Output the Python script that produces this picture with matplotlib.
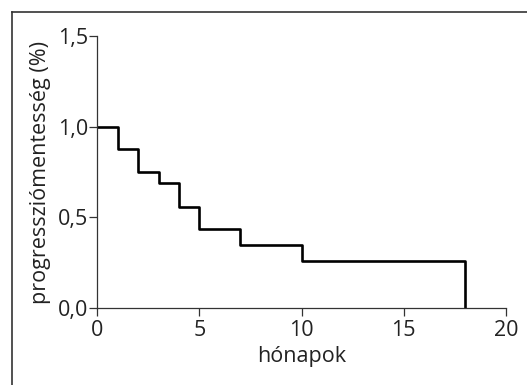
import matplotlib.pyplot as plt
from matplotlib.lines import Line2D

plt.rcParams['font.family'] = ['Open Sans', 'DejaVu Sans']

# step data
months = [0, 1, 2, 3, 4, 5, 7, 10, 18]
survival = [1.0, 0.875, 0.75, 0.69, 0.56, 0.4375, 0.35, 0.26, 0.0]
xticks = [0, 5, 10, 15, 20]
yticks = [0.0, 0.5, 1.0, 1.5]
ylabels = ['0,0', '0,5', '1,0', '1,5']

fig = plt.figure(figsize=(5.27, 3.85), dpi=100)
ax = fig.add_axes([0.1846, 0.1992, 0.960 - 0.1846, 0.9068 - 0.1992])

ax.step(months, survival, where='post', color='black', lw=1.9)

ax.set_xlim(0, 20)
ax.set_ylim(0, 1.5)
ax.set_xticks(xticks)
ax.set_xticklabels([str(t) for t in xticks])
ax.set_yticks(yticks)
ax.set_yticklabels(ylabels)

for s in ['top', 'right']:
    ax.spines[s].set_visible(False)
for s in ['left', 'bottom']:
    ax.spines[s].set_color('#333333')
    ax.spines[s].set_linewidth(0.9)
ax.tick_params(direction='out', length=5.8, width=0.9, color='#333333',
               labelsize=15.5, labelcolor='#222222')
ax.tick_params(axis='x', pad=2.5)
ax.tick_params(axis='y', pad=1.0)

ax.set_xlabel('hónapok', fontsize=15.5, color='#222222', labelpad=4)
ax.set_ylabel('progressziómentesség (%)', fontsize=15.5, color='#222222', labelpad=5)

# frame around the figure (cut off at right and bottom)
x0 = 11.5 / 527
y0 = 1 - 11.5 / 385
fig.add_artist(Line2D([x0, x0], [0, y0], color='#333333', lw=1.2))
fig.add_artist(Line2D([x0, 1], [y0, y0], color='#333333', lw=1.2))

fig.savefig('out.png', dpi=100)
